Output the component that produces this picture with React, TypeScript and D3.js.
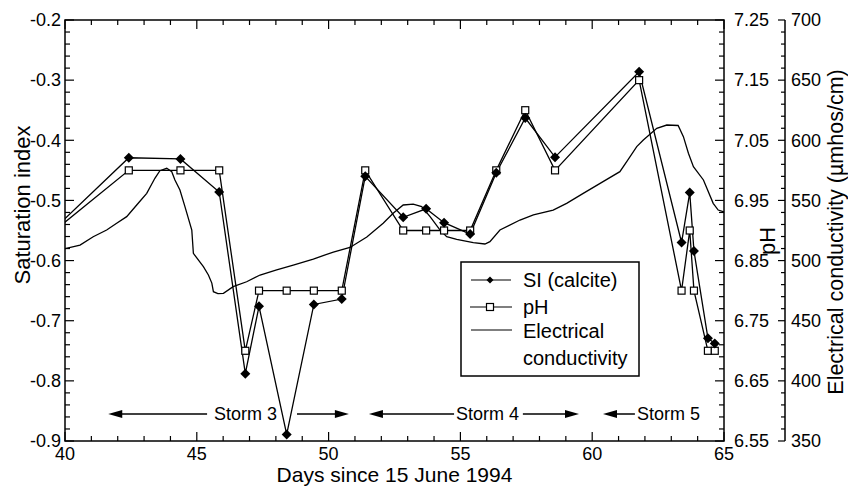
import React from "react";
import * as d3 from "d3";

// Sampling days (days since 15 June 1994) shared by the SI and pH series
const sampleDays = [39.5, 42.42, 44.38, 45.85, 46.84, 47.36, 48.41, 49.44, 50.5, 51.39, 52.83, 53.7, 54.38, 55.37, 56.36, 57.46, 58.59, 61.78, 63.39, 63.7, 63.86, 64.39, 64.65];
const siCalcite = [-0.551, -0.429, -0.431, -0.486, -0.788, -0.676, -0.889, -0.673, -0.664, -0.46, -0.528, -0.514, -0.537, -0.556, -0.454, -0.363, -0.428, -0.286, -0.57, -0.487, -0.584, -0.729, -0.738];
const phValues = [6.896, 7.0, 7.0, 7.0, 6.7, 6.8, 6.8, 6.8, 6.8, 7.0, 6.9, 6.9, 6.9, 6.9, 7.0, 7.1, 7.0, 7.15, 6.8, 6.9, 6.8, 6.7, 6.7];

// Continuous electrical conductivity record (µmhos/cm)
const ecDays = [40.0, 40.57, 41.07, 41.58, 41.96, 42.34, 42.72, 43.1, 43.41, 43.6, 43.86, 44.05, 44.17, 44.36, 44.55, 44.81, 44.87, 45.25, 45.44, 45.57, 45.63, 45.8, 46.01, 46.38, 46.89, 47.4, 48.03, 48.66, 49.42, 50.18, 50.81, 51.45, 52.07, 52.45, 52.83, 53.21, 53.53, 53.85, 54.23, 54.48, 54.86, 55.49, 55.93, 56.12, 56.5, 57.26, 57.77, 58.52, 59.03, 59.66, 60.3, 61.05, 61.31, 61.69, 61.94, 62.45, 62.83, 63.26, 63.46, 63.65, 63.84, 64.22, 64.59, 64.78, 65.0];
const ecValues = [510.0, 512.9, 519.8, 525.4, 531.0, 536.5, 546.2, 555.9, 568.4, 574.7, 576.7, 573.9, 567.0, 558.7, 544.8, 525.4, 506.0, 494.9, 488.0, 481.3, 474.1, 472.6, 472.8, 478.3, 482.4, 488.0, 492.2, 496.3, 501.3, 507.1, 510.9, 519.6, 531.0, 539.3, 546.2, 547.0, 544.8, 536.5, 525.4, 519.8, 517.7, 514.9, 513.8, 515.7, 525.4, 533.7, 537.9, 542.0, 547.6, 555.9, 564.2, 573.9, 582.2, 594.7, 600.2, 610.0, 612.7, 612.3, 603.0, 589.2, 578.0, 567.0, 547.6, 542.0, 540.4];

// Storm periods: label, label start day, left arrow [tip, tail], right arrow [tail, tip]
const stormLabels = ["Storm 3", "Storm 4", "Storm 5"];
const stormLabelStart = [45.65, 54.83, 61.7];
const stormLeftArrows = [[41.64, 45.39], [51.53, 54.76], [60.41, 61.62]];
const stormRightArrows = [[48.8, 50.77], [57.37, 59.5], null];

const siTicks = [-0.9, -0.8, -0.7, -0.6, -0.5, -0.4, -0.3, -0.2];
const phTicks = [6.55, 6.65, 6.75, 6.85, 6.95, 7.05, 7.15, 7.25];
const ecTicks = [350, 400, 450, 500, 550, 600, 650, 700];
const dayTicks = [40, 45, 50, 55, 60, 65];

const FONT = "'Liberation Sans', Arial, Helvetica, sans-serif";

export default function App() {
  const left = 65, right = 724, top = 20, bottom = 441, ecAxisX = 785;
  const x = d3.scaleLinear().domain([40, 65]).range([left, right]);
  const ySI = d3.scaleLinear().domain([-0.9, -0.2]).range([bottom, top]);
  const yPH = d3.scaleLinear().domain([6.55, 7.25]).range([bottom, top]);
  const yEC = d3.scaleLinear().domain([350, 700]).range([bottom, top]);

  const siPts = sampleDays.map((d, i) => [x(d), ySI(siCalcite[i])] as [number, number]);
  const phPts = sampleDays.map((d, i) => [x(d), yPH(phValues[i])] as [number, number]);
  const ecPts = ecDays.map((d, i) => [x(d), yEC(ecValues[i])] as [number, number]);
  const line = d3.line();

  const minorSI = d3.range(0, 36).map((i) => -0.9 + i * 0.02);
  const minorEC = d3.range(0, 36).map((i) => 350 + i * 10);
  const minorDays = d3.range(40, 66);

  const diamond = (cx: number, cy: number, r: number) =>
    `M${cx},${cy - r}L${cx + r},${cy}L${cx},${cy + r}L${cx - r},${cy}Z`;

  const arrow = (tip: number, tail: number, y: number, key: string) => {
    const tx = x(tip), sx = x(tail);
    const dir = tx < sx ? 1 : -1;
    const hl = 14, hw = 4;
    return (
      <g key={key}>
        <line x1={sx} y1={y} x2={tx + dir * hl * 0.8} y2={y} stroke="#000" strokeWidth={1.5} />
        <path d={`M${tx},${y}L${tx + dir * hl},${y - hw}L${tx + dir * hl},${y + hw}Z`} fill="#000" />
      </g>
    );
  };

  const stormY = 414;

  return (
    <svg width={848} height={486} style={{ position: "absolute", left: 0, top: 0, background: "#fff" }} fontFamily={FONT}>
      <defs>
        <clipPath id="plotClip">
          <rect x={left} y={top} width={right - left} height={bottom - top} />
        </clipPath>
      </defs>

      {/* frame */}
      <rect x={left} y={top} width={right - left} height={bottom - top} fill="none" stroke="#000" strokeWidth={1.5} />

      {/* left SI axis ticks (inward) */}
      {minorSI.map((v, i) => (
        <line key={"sm" + i} x1={left} x2={left + (i % 5 === 0 ? 9 : 5)} y1={ySI(v)} y2={ySI(v)} stroke="#000" strokeWidth={1.2} />
      ))}
      {siTicks.map((v) => (
        <text key={"sl" + v} x={left - 4} y={ySI(v)} dy="0.35em" textAnchor="end" fontSize={18}>{v.toFixed(1)}</text>
      ))}

      {/* right pH axis ticks (inward) */}
      {minorSI.map((v, i) => (
        <line key={"pm" + i} x1={right} x2={right - (i % 5 === 0 ? 9 : 5)} y1={ySI(v)} y2={ySI(v)} stroke="#000" strokeWidth={1.2} />
      ))}
      {phTicks.map((v) => (
        <text key={"pl" + v} x={right + 10} y={yPH(v)} dy="0.35em" textAnchor="start" fontSize={18}>{v.toFixed(2)}</text>
      ))}

      {/* conductivity axis */}
      <line x1={ecAxisX} x2={ecAxisX} y1={top} y2={bottom} stroke="#000" strokeWidth={1.5} />
      {minorEC.map((v, i) => (
        <line key={"em" + i} x1={ecAxisX} x2={ecAxisX - (i % 5 === 0 ? 7 : 4)} y1={yEC(v)} y2={yEC(v)} stroke="#000" strokeWidth={1.2} />
      ))}
      {ecTicks.map((v) => (
        <text key={"el" + v} x={ecAxisX + 6} y={yEC(v)} dy="0.35em" textAnchor="start" fontSize={18}>{v}</text>
      ))}

      {/* day ticks on bottom and top */}
      {minorDays.map((d) => (
        <g key={"d" + d}>
          <line x1={x(d)} x2={x(d)} y1={bottom} y2={bottom - (d % 5 === 0 ? 9 : 5)} stroke="#000" strokeWidth={1.2} />
          <line x1={x(d)} x2={x(d)} y1={top} y2={top + (d % 5 === 0 ? 9 : 5)} stroke="#000" strokeWidth={1.2} />
        </g>
      ))}
      {dayTicks.map((d) => (
        <text key={"dl" + d} x={x(d)} y={bottom + 13} dy="0.35em" textAnchor="middle" fontSize={18}>{d}</text>
      ))}

      {/* axis titles */}
      <text x={(left + right) / 2} y={475} textAnchor="middle" fontSize={21} dy="0.35em">Days since 15 June 1994</text>
      <text transform={`translate(22,205) rotate(-90)`} textAnchor="middle" dy="0.35em" fontSize={22}>Saturation index</text>
      <text transform={`translate(767,241) rotate(-90)`} textAnchor="middle" dy="0.35em" fontSize={22}>pH</text>
      <text transform={`translate(835,232) rotate(-90)`} textAnchor="middle" dy="0.35em" fontSize={21.5}>Electrical conductivity (µmhos/cm)</text>

      {/* data */}
      <g clipPath="url(#plotClip)">
        <path d={line(ecPts) || ""} fill="none" stroke="#000" strokeWidth={1.3} />
        <path d={line(phPts) || ""} fill="none" stroke="#000" strokeWidth={1.3} />
        <path d={line(siPts) || ""} fill="none" stroke="#000" strokeWidth={1.3} />
        {phPts.map(([px, py], i) => (
          <rect key={"ps" + i} x={px - 3.5} y={py - 3.5} width={7} height={7} fill="#fff" stroke="#000" strokeWidth={1.2} />
        ))}
        {siPts.map(([px, py], i) => (
          <path key={"sd" + i} d={diamond(px, py, 5)} fill="#000" />
        ))}
      </g>

      {/* storm periods */}
      {stormLabels.map((lab, i) => {
        const la = stormLeftArrows[i];
        const ra = stormRightArrows[i];
        return (
          <g key={"st" + i}>
            {arrow(la[0], la[1], stormY, "la" + i)}
            {ra ? arrow(ra[1], ra[0], stormY, "ra" + i) : null}
            <text x={x(stormLabelStart[i])} y={stormY} dy="0.35em" fontSize={18}>{lab}</text>
          </g>
        );
      })}

      {/* legend */}
      <g>
        <rect x={461} y={262} width={178} height={114} fill="#fff" stroke="#000" strokeWidth={1.5} />
        <line x1={471} x2={511} y1={280} y2={280} stroke="#000" strokeWidth={1.2} />
        <path d={diamond(490, 280, 3.5)} fill="#000" />
        <text x={523} y={280} dy="0.35em" fontSize={20}>SI (calcite)</text>
        <line x1={470} x2={512} y1={307} y2={307} stroke="#000" strokeWidth={1.2} />
        <rect x={486.5} y={303.5} width={7} height={7} fill="#fff" stroke="#000" strokeWidth={1.2} />
        <text x={523} y={307} dy="0.35em" fontSize={20}>pH</text>
        <line x1={471} x2={512} y1={330} y2={330} stroke="#000" strokeWidth={1.2} />
        <text x={523} y={331} dy="0.35em" fontSize={20}>Electrical</text>
        <text x={523} y={358} dy="0.35em" fontSize={20}>conductivity</text>
      </g>
    </svg>
  );
}
